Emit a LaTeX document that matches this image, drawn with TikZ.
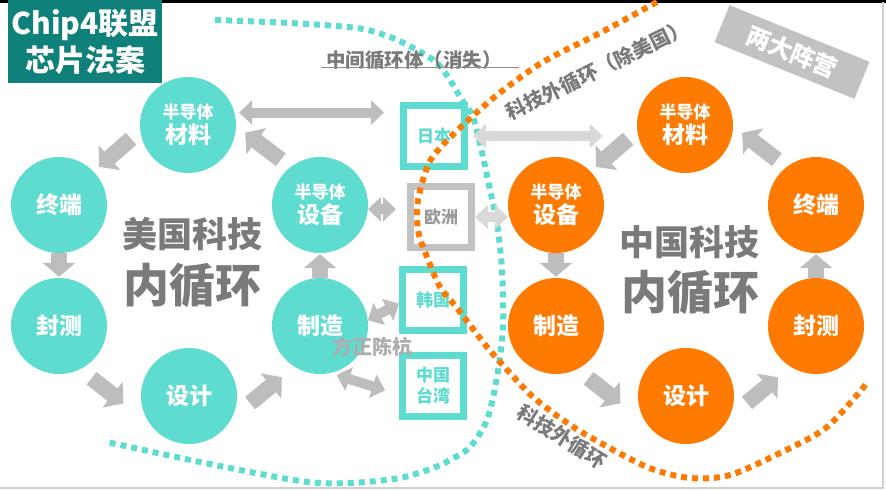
\documentclass[tikz,border=0pt]{standalone}
\usepackage{fontspec}
\setmainfont{Noto Sans CJK SC}
\usetikzlibrary{positioning}
\usetikzlibrary{arrows.meta}
\definecolor{usteal}{HTML}{5FDCD0}
\definecolor{cnorange}{HTML}{FF7A00}
\definecolor{titleteal}{HTML}{0F807A}
\definecolor{arrgray}{HTML}{BDBDBD}
\definecolor{arrlight}{HTML}{D9D9D9}
\definecolor{txtgray}{HTML}{7A7A7A}
\definecolor{framegray}{HTML}{C2C2C2}

\begin{document}
\begin{tikzpicture}[
    x=1pt, y=-1pt,
    ring/.style={
        circle, minimum size=96pt, inner sep=0pt, text=white, align=center,
        font=\bfseries\fontsize{23}{25}\selectfont
    },
    usring/.style={ring, fill=usteal},
    cnring/.style={ring, fill=cnorange},
    areabox/.style={
        draw=usteal, line width=7pt, fill=white, minimum size=61pt,
        inner sep=0pt, align=center, text=usteal,
        font=\bfseries\fontsize{17}{21}\selectfont
    },
    ringarr/.style={arrgray, line width=16pt, -{Triangle[length=14pt,width=32pt]}},
    dblarr/.style={arrgray, line width=10pt,
        {Triangle[length=13pt,width=24pt]}-{Triangle[length=13pt,width=24pt]}},
    dotline/.style={line width=6pt, dash pattern=on 6pt off 5pt},
    loopname/.style={text=txtgray, font=\bfseries\fontsize{35}{40}\selectfont},
    sidetag/.style={text=txtgray, font=\bfseries\fontsize{20}{24}\selectfont},
]
\useasboundingbox (0,0) rectangle (886,490);

% Frame
\fill[black] (0,0) rectangle (886,2.5);
\draw[black!18, line width=1.5pt] (883,2) -- (883,488) -- (0,488);

% Title
\node[fill=titleteal, minimum width=154pt, minimum height=83pt, text=white,
      align=center, font=\bfseries\fontsize{30}{37}\selectfont]
      (title) at (85,41.5) {Chip4联盟\\芯片法案};

% US ring
\node[usring] (lcl) at (188,125) {{\fontsize{17}{20}\selectfont 半导体}\\材料};
\node[usring] (lzd) at (59,205)  {终端};
\node[usring] (lfc) at (59,326)  {封测};
\node[usring] (lsj) at (189,396) {设计};
\node[usring] (lzz) at (320,326) {制造};
\node[usring] (lsb) at (320,205) {{\fontsize{17}{20}\selectfont 半导体}\\设备};

% CN ring
\node[cnring] (rcl) at (685,125) {{\fontsize{17}{20}\selectfont 半导体}\\材料};
\node[cnring] (rsb) at (556,205) {{\fontsize{17}{20}\selectfont 半导体}\\设备};
\node[cnring] (rzz) at (556,326) {制造};
\node[cnring] (rsj) at (686,396) {设计};
\node[cnring] (rfc) at (816,326) {封测};
\node[cnring] (rzd) at (816,205) {终端};

% Middle regions
\node[areabox] (jp) at (434,136) {日本};
\node[areabox, draw=framegray, text=black!40] (eu) at (441,217) {欧洲};
\node[areabox] (kr) at (433,300) {韩国};
\node[areabox] (tw) at (433,386) {中国\\台湾};

% Ring names
\node[loopname] (usname) at (192,234) {美国科技};
\node[loopname, font=\bfseries\fontsize{46}{50}\selectfont] (usloop) at (192,285) {内循环};
\node[loopname] (cnname) at (689,242) {中国科技};
\node[loopname, font=\bfseries\fontsize{46}{50}\selectfont] (cnloop) at (690,292) {内循环};

% Dotted borders
\draw[dotline, usteal] plot[smooth] coordinates {(215,20) (290,23) (357,28) (390,37)
    (417,50) (437,63) (450,80) (462,100) (473,117) (483,157) (490,190) (497,223)
    (502,270) (503,327) (497,377) (487,420) (470,447) (450,460) (433,468) (400,478)
    (350,483) (300,481) (200,462) (107,442)};
\draw[dotline, cnorange] plot[smooth] coordinates {(657,2) (600,33) (543,62) (497,95)
    (463,125) (440,148) (428,165) (418,200) (418,230) (427,257) (440,287) (457,308)
    (487,347) (510,373) (533,397) (563,420) (590,437) (647,467) (690,478) (730,475)
    (780,453) (827,427) (867,383)};

% Labels
\node[sidetag, font=\bfseries\fontsize{19.5}{24}\selectfont] (mid) at (414,60) {中间循环体（消失）};
\draw[black!45, line width=0.8pt] ([xshift=-2pt]mid.base west) -- ([xshift=14pt]mid.base east);
\node[sidetag, rotate=26] (outer) at (597,70) {科技外循环（除美国）};
\node[sidetag, rotate=-32] (outerlow) at (562,437) {科技外循环};
\node[fill=framegray, text=white, minimum width=151pt, minimum height=40pt,
      font=\bfseries\fontsize{24}{28}\selectfont, rotate=-22] (camp) at (792,52) {两大阵营};

% US ring flow
\draw[ringarr, shorten <=12pt, shorten >=7pt] (lcl.187) -- (lzd.44);
\draw[ringarr, shorten >=1pt] (lzd) -- (lfc);
\draw[ringarr, shorten <=14.5pt, shorten >=33pt] (lfc.-64) -- (lsj.215);
\draw[ringarr, shorten <=23.4pt, shorten >=16.3pt] (lsj.-27) -- (lzz.238);
\draw[ringarr, shorten >=1pt] (lzz) -- (lsb);
\draw[ringarr, shorten <=11.9pt, shorten >=11.3pt] (lsb.128) -- (lcl.-1);

% CN ring flow
\draw[ringarr, shorten <=12pt, shorten >=7pt] (rcl.187) -- (rsb.44);
\draw[ringarr, shorten >=1pt] (rsb) -- (rzz);
\draw[ringarr, shorten <=14.5pt, shorten >=33pt] (rzz.-64) -- (rsj.215);
\draw[ringarr, shorten <=23.4pt, shorten >=16.3pt] (rsj.-27) -- (rfc.238);
\draw[ringarr, shorten >=1pt] (rfc) -- (rzd);
\draw[ringarr, shorten <=11.9pt, shorten >=11.3pt] (rzd.128) -- (rcl.-1);

% Exchanges
\draw[dblarr, shorten <=4.6pt, shorten >=16pt] (lcl.15) -- (lcl.15 -| jp.west);
\draw[dblarr, shorten >=11pt] (lsb.-5) -- (lsb.-5 -| eu.west);
\draw[dblarr] (lzz.7) -- (kr.186);
\draw[dblarr, shorten <=7pt, shorten >=14.5pt] (lzz.-78) -- (tw.194);
\draw[dblarr, arrlight, shorten <=5pt, shorten >=34pt] (jp.east) -- (jp.east -| rcl.west);
\draw[dblarr, arrlight] (eu.east) -- (eu.east -| rsb.west);

% Watermark
\node[text=black!32, font=\bfseries\fontsize{20}{24}\selectfont] (stamp) at (372,347) {方正陈杭};

\end{tikzpicture}
\end{document}
